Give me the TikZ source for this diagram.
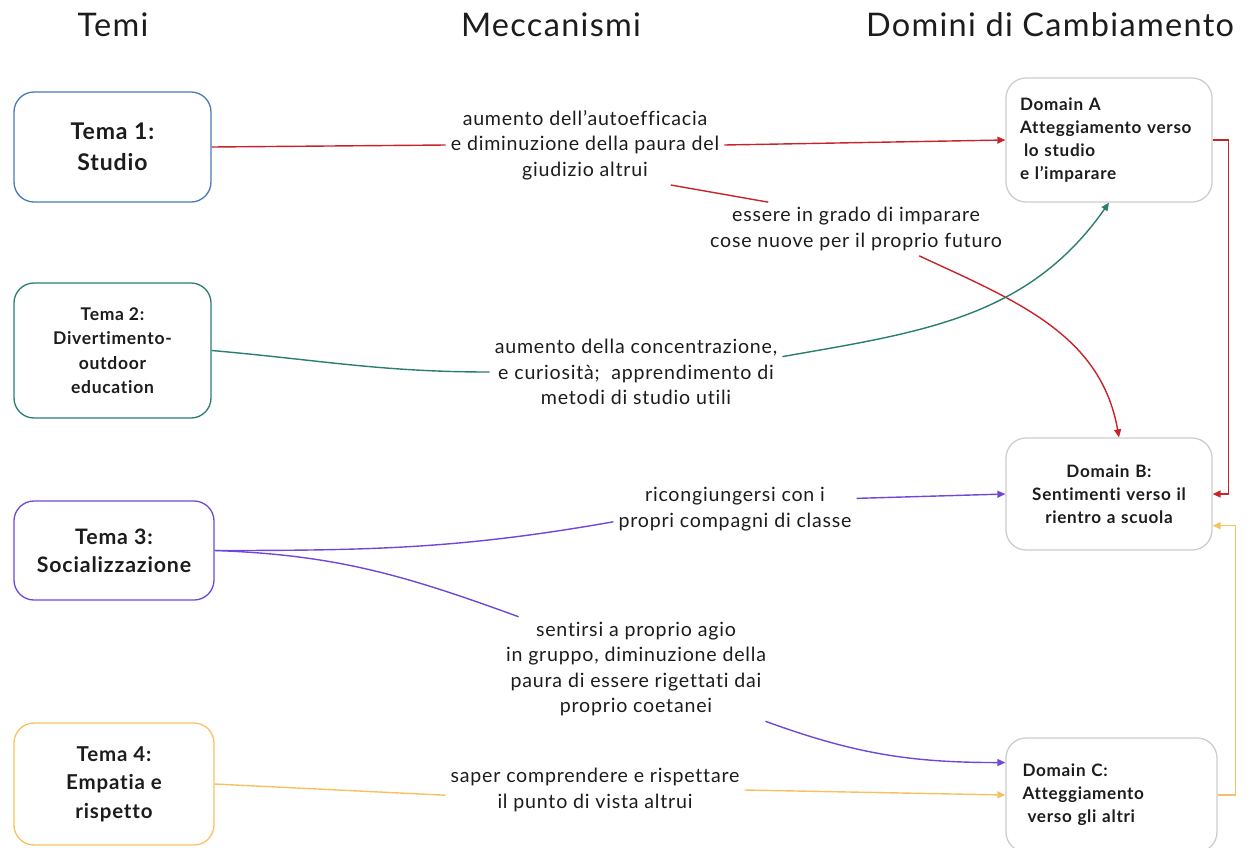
\documentclass[tikz,border=0pt]{standalone}
\usepackage{fontspec}
\setmainfont{Lato}[LetterSpace=4, Ligatures=NoCommon]
\usepackage{tikz}
\usetikzlibrary{positioning, arrows.meta}
\definecolor{temablue}{HTML}{4A79B8}
\definecolor{temateal}{HTML}{2A7D71}
\definecolor{temapurple}{HTML}{7048D8}
\definecolor{temayellow}{HTML}{F6C160}
\definecolor{linkred}{HTML}{C8232B}
\definecolor{boxgrey}{HTML}{CDCDCD}
\definecolor{inkdark}{HTML}{1C1C1C}

\tikzset{
  every tema/.style={draw, rounded corners=20pt, line width=1.3pt, minimum width=197pt,
    align=center, text=inkdark},
  every domain/.style={draw=boxgrey, rounded corners=20pt, line width=1.3pt, minimum width=206pt,
    text width=178pt, align=left, text=inkdark, font=\bfseries\fontsize{17.1}{23}\selectfont},
  every mech/.style={align=center, inner sep=5pt, text=inkdark, font=\fontsize{19.6}{25.5}\selectfont},
  link/.style={line width=1.4pt}
}

\begin{document}
\begin{tikzpicture}[x=1pt, y=-1pt, >={Triangle[length=8pt, width=7pt]}]

        \useasboundingbox (0,0) rectangle (1250,847);

        \foreach \l/\x [count=\i] in {Temi/113, Meccanismi/551, Domini di Cambiamento/1050}
          \node [font=\fontsize{32.5}{36}\selectfont, text=inkdark] (head-\i) at (\x,25) {\l};

        \node [every tema, draw=temablue, minimum height=110pt, font=\bfseries\fontsize{23}{31.5}\selectfont]
          (tema-1) at (112.5,147) {Tema 1:\\Studio};
        \node [every tema, draw=temateal, minimum height=135pt, font=\bfseries\fontsize{17.5}{24.5}\selectfont]
          (tema-2) at (112.5,350.5) {Tema 2:\\Divertimento-\\outdoor\\education};
        \node [every tema, draw=temapurple, minimum width=200pt, minimum height=99pt, font=\bfseries\fontsize{21.3}{28}\selectfont]
          (tema-3) at (114,550.5) {Tema 3:\\Socializzazione};
        \node [every tema, draw=temayellow, minimum width=200pt, minimum height=122pt, font=\bfseries\fontsize{20.5}{28.5}\selectfont]
          (tema-4) at (114,784) {Tema 4:\\Empatia e\\rispetto};

        \node [every domain, minimum height=124pt] (domain-1) at (1109,140)
          {Domain A\\Atteggiamento verso\\\hspace*{4pt}lo studio\\e l'imparare};
        \node [every domain, minimum height=112pt, align=center] (domain-2) at (1109,494)
          {Domain B:\\Sentimenti verso il\\rientro a scuola};
        \node [every domain, minimum width=211pt, minimum height=114pt] (domain-3) at (1111.5,795)
          {Domain C:\\Atteggiamento\\\hspace*{5pt}verso gli altri};

        \node [every mech] (mech-1) at (585,145) {aumento dell'autoefficacia\\e diminuzione della paura del\\giudizio altrui};
        \node [every mech] (mech-2) at (856,229) {essere in grado di imparare\\cose nuove per il proprio futuro};
        \node [every mech] (mech-3) at (636,372) {aumento della concentrazione,\\e curiosità;\ \ apprendimento di\\metodi di studio utili};
        \node [every mech] (mech-4) at (735,509) {ricongiungersi con i\\propri compagni di classe};
        \node [every mech] (mech-5) at (636,669) {sentirsi a proprio agio\\in gruppo, diminuzione della\\paura di essere rigettati dai\\proprio coetanei};
        \node [every mech] (mech-6) at (595,790) {saper comprendere e rispettare\\il punto di vista altrui};

        \draw [link, linkred] (tema-1.east) -- (mech-1.west);
        \draw [link, linkred, ->] (mech-1.east) -- (domain-1.west);
        \draw [link, linkred] (mech-1.-25) -- (mech-2.163);
        \draw [link, linkred, ->] (mech-2.-23) to [out=-25, in=100] (domain-2.80);

        \draw [link, temateal] (tema-2.east) to [out=-5, in=180] (mech-3.west);
        \draw [link, temateal, ->] (mech-3.6) to [out=10, in=-125] (domain-1.south);

        \draw [link, temapurple] (tema-3.east) to [out=0, in=190] (mech-4.186);
        \draw [link, temapurple, ->] (mech-4.5) -- (domain-2.west);
        \draw [link, temapurple] (tema-3.east) to [out=-2, in=160] (mech-5.156);
        \draw [link, temapurple, ->] (mech-5.-22) to [out=-20, in=180] (domain-3.163);

        \draw [link, temayellow] (tema-4.east) -- (mech-6.182);
        \draw [link, temayellow, ->] (mech-6.east) -- (domain-3.west);

        \draw [link, linkred, ->] (domain-1.east) -- ++(16,0) |- (domain-2.east);
        \draw [link, temayellow, ->] (domain-3.east) -- ++(18,0) |- (domain-2.-17);

\end{tikzpicture}
\end{document}
